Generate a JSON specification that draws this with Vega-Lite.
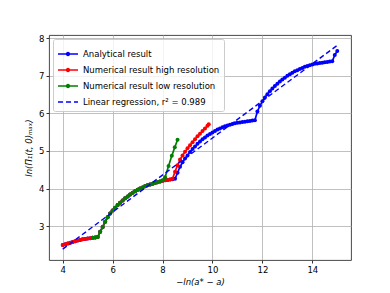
{
  "$schema": "https://vega.github.io/schema/vega-lite/v6.json",
  "width": 302,
  "height": 225,
  "autosize": "none",
  "padding": {"left": 49, "top": 35, "right": 39, "bottom": 33},
  "background": "white",
  "config": {
    "view": {"stroke": "#333333", "strokeWidth": 0.9},
    "axis": {
      "grid": true, "gridColor": "#b0b0b0", "gridWidth": 0.8,
      "domain": false,
      "tickColor": "black", "tickSize": 3, "tickWidth": 0.8,
      "labelFont": "DejaVu Sans", "labelFontSize": 8.5, "labelColor": "black", "labelPadding": 2,
      "titleFont": "DejaVu Sans", "titleFontSize": 8.5, "titleFontWeight": "normal", "titleColor": "black", "titleFontStyle": "italic"
    }
  },
  "datasets": {
    "analytical": [
      {"x":4.0,"y":2.50},{"x":4.1,"y":2.52},{"x":4.2,"y":2.54},{"x":4.3,"y":2.56},{"x":4.4,"y":2.58},{"x":4.5,"y":2.60},{"x":4.6,"y":2.62},{"x":4.7,"y":2.635},{"x":4.8,"y":2.65},{"x":4.9,"y":2.66},
      {"x":5.0,"y":2.67},{"x":5.1,"y":2.68},{"x":5.2,"y":2.69},{"x":5.3,"y":2.70},{"x":5.4,"y":2.71},{"x":5.5,"y":2.85},{"x":5.6,"y":2.98},{"x":5.7,"y":3.12},{"x":5.8,"y":3.24},{"x":5.9,"y":3.34},
      {"x":6.0,"y":3.42},{"x":6.1,"y":3.49},{"x":6.2,"y":3.56},{"x":6.3,"y":3.62},{"x":6.4,"y":3.68},{"x":6.5,"y":3.74},{"x":6.6,"y":3.79},{"x":6.7,"y":3.84},{"x":6.8,"y":3.89},{"x":6.9,"y":3.93},
      {"x":7.0,"y":3.97},{"x":7.1,"y":4.00},{"x":7.2,"y":4.03},{"x":7.3,"y":4.06},{"x":7.4,"y":4.09},{"x":7.5,"y":4.11},{"x":7.6,"y":4.13},{"x":7.7,"y":4.15},{"x":7.8,"y":4.17},{"x":7.9,"y":4.19},
      {"x":8.0,"y":4.21},{"x":8.1,"y":4.22},{"x":8.2,"y":4.23},{"x":8.3,"y":4.24},{"x":8.4,"y":4.25},{"x":8.5,"y":4.26},{"x":8.6,"y":4.42},{"x":8.7,"y":4.58},{"x":8.8,"y":4.70},{"x":8.9,"y":4.80},
      {"x":9.0,"y":4.88},{"x":9.1,"y":4.97},{"x":9.2,"y":5.05},{"x":9.3,"y":5.12},{"x":9.4,"y":5.19},{"x":9.5,"y":5.25},{"x":9.6,"y":5.31},{"x":9.7,"y":5.36},{"x":9.8,"y":5.41},{"x":9.9,"y":5.45},
      {"x":10.0,"y":5.49},{"x":10.1,"y":5.53},{"x":10.2,"y":5.57},{"x":10.3,"y":5.60},{"x":10.4,"y":5.63},{"x":10.5,"y":5.66},{"x":10.6,"y":5.68},{"x":10.7,"y":5.70},{"x":10.8,"y":5.72},{"x":10.9,"y":5.74},
      {"x":11.0,"y":5.75},{"x":11.1,"y":5.76},{"x":11.2,"y":5.77},{"x":11.3,"y":5.78},{"x":11.4,"y":5.79},{"x":11.5,"y":5.80},{"x":11.6,"y":5.81},{"x":11.7,"y":5.82},{"x":11.8,"y":6.05},{"x":11.9,"y":6.20},
      {"x":12.0,"y":6.32},{"x":12.1,"y":6.42},{"x":12.2,"y":6.51},{"x":12.3,"y":6.59},{"x":12.4,"y":6.66},{"x":12.5,"y":6.73},{"x":12.6,"y":6.79},{"x":12.7,"y":6.85},{"x":12.8,"y":6.90},{"x":12.9,"y":6.95},
      {"x":13.0,"y":7.00},{"x":13.1,"y":7.04},{"x":13.2,"y":7.08},{"x":13.3,"y":7.12},{"x":13.4,"y":7.15},{"x":13.5,"y":7.18},{"x":13.6,"y":7.21},{"x":13.7,"y":7.24},{"x":13.8,"y":7.26},{"x":13.9,"y":7.28},
      {"x":14.0,"y":7.30},{"x":14.1,"y":7.32},{"x":14.2,"y":7.33},{"x":14.3,"y":7.34},{"x":14.4,"y":7.35},{"x":14.5,"y":7.36},{"x":14.6,"y":7.37},{"x":14.7,"y":7.38},{"x":14.8,"y":7.39},{"x":14.9,"y":7.55},
      {"x":15.0,"y":7.66}
    ],
    "high": [
      {"x":4.0,"y":2.50},{"x":4.1,"y":2.52},{"x":4.2,"y":2.54},{"x":4.3,"y":2.56},{"x":4.4,"y":2.58},{"x":4.5,"y":2.60},{"x":4.6,"y":2.62},{"x":4.7,"y":2.635},{"x":4.8,"y":2.65},{"x":4.9,"y":2.66},
      {"x":5.0,"y":2.67},{"x":5.1,"y":2.68},{"x":5.2,"y":2.69},{"x":5.3,"y":2.70},{"x":5.4,"y":2.71},{"x":5.5,"y":2.85},{"x":5.6,"y":2.98},{"x":5.7,"y":3.12},{"x":5.8,"y":3.24},{"x":5.9,"y":3.34},
      {"x":6.0,"y":3.42},{"x":6.1,"y":3.49},{"x":6.2,"y":3.56},{"x":6.3,"y":3.62},{"x":6.4,"y":3.68},{"x":6.5,"y":3.74},{"x":6.6,"y":3.79},{"x":6.7,"y":3.84},{"x":6.8,"y":3.89},{"x":6.9,"y":3.93},
      {"x":7.0,"y":3.97},{"x":7.1,"y":4.00},{"x":7.2,"y":4.03},{"x":7.3,"y":4.06},{"x":7.4,"y":4.09},{"x":7.5,"y":4.11},{"x":7.6,"y":4.13},{"x":7.7,"y":4.15},{"x":7.8,"y":4.17},{"x":7.9,"y":4.19},
      {"x":8.0,"y":4.21},{"x":8.1,"y":4.22},{"x":8.2,"y":4.23},{"x":8.3,"y":4.24},{"x":8.4,"y":4.26},{"x":8.5,"y":4.45},{"x":8.6,"y":4.62},{"x":8.7,"y":4.77},{"x":8.8,"y":4.88},{"x":8.9,"y":4.98},
      {"x":9.0,"y":5.07},{"x":9.1,"y":5.15},{"x":9.2,"y":5.23},{"x":9.3,"y":5.31},{"x":9.4,"y":5.39},{"x":9.5,"y":5.46},{"x":9.6,"y":5.53},{"x":9.7,"y":5.60},{"x":9.8,"y":5.67},{"x":9.85,"y":5.71}
    ],
    "low": [
      {"x":5.2,"y":2.69},{"x":5.3,"y":2.70},{"x":5.4,"y":2.71},{"x":5.5,"y":2.85},{"x":5.6,"y":2.98},{"x":5.7,"y":3.12},{"x":5.8,"y":3.24},{"x":5.9,"y":3.34},
      {"x":6.0,"y":3.42},{"x":6.1,"y":3.49},{"x":6.2,"y":3.56},{"x":6.3,"y":3.62},{"x":6.4,"y":3.68},{"x":6.5,"y":3.74},{"x":6.6,"y":3.79},{"x":6.7,"y":3.84},{"x":6.8,"y":3.89},{"x":6.9,"y":3.93},
      {"x":7.0,"y":3.97},{"x":7.1,"y":4.00},{"x":7.2,"y":4.03},{"x":7.3,"y":4.06},{"x":7.4,"y":4.09},{"x":7.5,"y":4.11},{"x":7.6,"y":4.13},{"x":7.7,"y":4.15},{"x":7.8,"y":4.17},{"x":7.9,"y":4.19},
      {"x":8.0,"y":4.22},{"x":8.1,"y":4.30},{"x":8.24,"y":4.60},{"x":8.37,"y":4.87},{"x":8.49,"y":5.10},{"x":8.6,"y":5.30}
    ],
    "fit": [
      {"x":4.0,"y":2.39},{"x":15.0,"y":7.81}
    ]
  },
  "encoding": {
    "x": {"field": "x", "type": "quantitative", "scale": {"domain": [3.45, 15.55], "nice": false, "zero": false},
          "axis": {"values": [4, 6, 8, 10, 12, 14], "title": "−ln(a* − a)", "titlePadding": 4}},
    "y": {"field": "y", "type": "quantitative", "scale": {"domain": [2.1, 8.085], "nice": false, "zero": false},
          "axis": {"values": [3, 4, 5, 6, 7, 8], "title": "ln(Π₁(t, 0)ₘₐₓ)", "titlePadding": 5}}
  },
  "layer": [
    {
      "data": {"name": "analytical"},
      "mark": {"type": "line", "strokeWidth": 1.7, "point": {"filled": true, "size": 16}},
      "encoding": {
        "color": {
          "datum": "Analytical result", "type": "nominal",
          "scale": {
            "domain": ["Analytical result", "Numerical result high resolution", "Numerical result low resolution", "Linear regression, r² = 0.989"],
            "range": ["#0000ff", "#ff0000", "#008000", "#0000ff"]
          },
          "legend": {
            "title": null, "orient": "top-left", "offset": 4, "padding": 4,
            "fillColor": "rgba(255,255,255,0.8)", "strokeColor": "#cccccc", "cornerRadius": 2,
            "labelFont": "DejaVu Sans", "labelFontSize": 8.5, "labelColor": "black", "labelLimit": 300,
            "symbolSize": 400, "symbolStrokeWidth": 1.5, "rowPadding": -7, "labelOffset": 4,
            "encode": {
              "symbols": {
                "update": {
                  "shape": {"signal": "datum.value === 'Linear regression, r² = 0.989' ? 'stroke' : 'M-1,0H1M-0.15,0A0.15,0.15,0,1,1,0.15,0A0.15,0.15,0,1,1,-0.15,0Z'"},
                  "fill": {"signal": "datum.value === 'Linear regression, r² = 0.989' ? 'transparent' : scale('color', datum.value)"},
                  "strokeDash": {"signal": "datum.value === 'Linear regression, r² = 0.989' ? [5, 3] : []"}
                }
              }
            }
          }
        }
      }
    },
    {
      "data": {"name": "high"},
      "mark": {"type": "line", "strokeWidth": 1.7, "point": {"filled": true, "size": 16}},
      "encoding": {"color": {"datum": "Numerical result high resolution", "type": "nominal"}}
    },
    {
      "data": {"name": "low"},
      "mark": {"type": "line", "strokeWidth": 1.7, "point": {"filled": true, "size": 16}},
      "encoding": {"color": {"datum": "Numerical result low resolution", "type": "nominal"}}
    },
    {
      "data": {"name": "fit"},
      "mark": {"type": "line", "strokeWidth": 1.4, "strokeDash": [5, 3]},
      "encoding": {"color": {"datum": "Linear regression, r² = 0.989", "type": "nominal"}}
    }
  ]
}
